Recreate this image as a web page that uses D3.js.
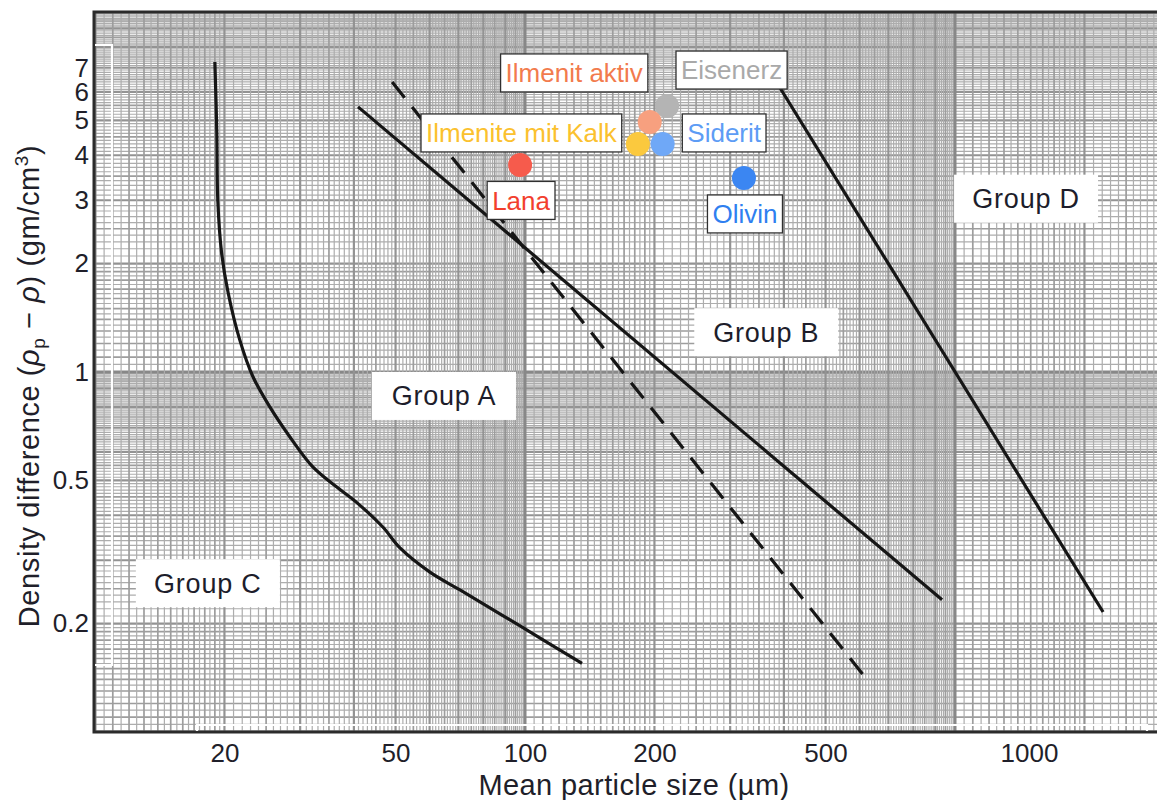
<!DOCTYPE html>
<html>
<head>
<meta charset="utf-8">
<script src="https://cdn.jsdelivr.net/npm/d3@7"></script>
<style>
  html, body { margin: 0; padding: 0; background: #ffffff; }
  svg { display: block; font-family: "Liberation Sans", Arial, Helvetica, sans-serif; }
</style>
</head>
<body>
<svg id="chart" width="1157" height="800"></svg>
<script>
// ---------- data ----------
// Axis tick labels
const xTickValues = [20, 50, 100, 200, 500, 1000];          // mean particle size, µm
const yTickValues = [0.2, 0.5, 1, 2, 3, 4, 5, 6, 7];        // density difference, g/cm³

// Boundary C / A (cohesive to aeratable)
const boundaryCA_size    = [19.0, 19.2, 19.3, 19.7, 20.4, 21.7, 23.3, 25.5, 28.4, 32.1, 36.5, 40.7, 46.7, 51.2, 60.1, 70.6, 97.4, 135.7];
const boundaryCA_density = [7.26, 4.61, 3.00, 2.14, 1.66, 1.23, 0.97, 0.80, 0.66, 0.545, 0.479, 0.433, 0.371, 0.3245, 0.278, 0.248, 0.197, 0.155];

// Boundary A / B
const boundaryAB_size    = [40.9, 933];
const boundaryAB_density = [5.45, 0.233];

// Alternative A / B criterion (dashed)
const boundaryAB2_size    = [49.1, 618];
const boundaryAB2_density = [6.39, 0.142];

// Boundary B / D
const boundaryBD_size    = [392, 2210];
const boundaryBD_density = [6.15, 0.2154];

// Materials
const materialNames   = ["Eisenerz", "Ilmenit aktiv", "Ilmenite mit Kalk", "Siderit", "Lana", "Olivin"];
const materialSize    = [214, 195, 183, 209, 97.4, 323];
const materialDensity = [5.48, 4.95, 4.30, 4.30, 3.76, 3.46];

// Group regions
const groupNames   = ["Group A", "Group B", "Group C", "Group D"];
const groupSize    = [64.8, 364, 18.3, 1463];
const groupDensity = [0.858, 1.29, 0.259, 3.03];

// ---------- styling / layout ----------
const W = 1157, H = 800;
const plot = { left: 95, right: 1157, top: 12, bottom: 732 };

const pointFill = {
  "Eisenerz": "#b4b4b4", "Ilmenit aktiv": "#f7a07f", "Ilmenite mit Kalk": "#fbc93e",
  "Siderit": "#6fa8f7", "Lana": "#f65b4c", "Olivin": "#3b86f2"
};
const labelColor = {
  "Eisenerz": "#a9a9a9", "Ilmenit aktiv": "#f27b4d", "Ilmenite mit Kalk": "#fbc12e",
  "Siderit": "#5d9cf5", "Lana": "#f23f2e", "Olivin": "#2f7ff0"
};
// label box centre relative to the marker, in px
const labelOffset = {
  "Eisenerz": [64.5, -36], "Ilmenit aktiv": [-75.5, -49], "Ilmenite mit Kalk": [-116.5, -11],
  "Siderit": [61.5, -11], "Lana": [1, 35.5], "Olivin": [1, 36]
};

const svg = d3.select("#chart");

const x = d3.scaleLog().domain([10, 1000]).range([95, 955]);
const y = d3.scaleLog().domain([0.1, 10]).range([732, 12]);

svg.append("rect").attr("width", W).attr("height", H).attr("fill", "#fff");

// ---------- log graph paper ----------
function paperValues(e0, e1) {
  const out = [];
  for (let e = e0; e <= e1; e++) {
    const d = Math.pow(10, e);
    for (let i = 100; i < 200; i += 5)
      out.push({ v: d * i / 100, k: i % 100 === 0 ? 0 : (i % 10 === 0 ? 2 : 3) });
    for (let i = 200; i < 1000; i += 10)
      out.push({ v: d * i / 100, k: i % 100 === 0 ? 1 : (i % 50 === 0 ? 2 : 3) });
  }
  return out;
}
const lineStyle = [
  { c: "#888888", w: 3.0 },
  { c: "#939393", w: 2.2 },
  { c: "#9d9d9d", w: 1.7 },
  { c: "#adadad", w: 1.2 }
];

const grid = svg.append("g").attr("class", "paper");
const defs = svg.append("defs");
defs.append("clipPath").attr("id", "plotClip")
  .append("rect").attr("x", plot.left).attr("y", plot.top)
  .attr("width", plot.right - plot.left).attr("height", plot.bottom - plot.top);
grid.attr("clip-path", "url(#plotClip)");

const xPaper = paperValues(1, 3).filter(d => x(d.v) <= plot.right + 1).sort((a, b) => b.k - a.k);
const yPaper = paperValues(-1, 0).filter(d => y(d.v) >= plot.top - 1).sort((a, b) => b.k - a.k);

grid.selectAll("line.h").data(yPaper).join("line").attr("class", "h")
  .attr("x1", plot.left).attr("x2", plot.right)
  .attr("y1", d => y(d.v)).attr("y2", d => y(d.v))
  .attr("stroke", d => lineStyle[d.k].c).attr("stroke-width", d => lineStyle[d.k].w);
grid.selectAll("line.v").data(xPaper).join("line").attr("class", "v")
  .attr("y1", plot.top).attr("y2", plot.bottom)
  .attr("x1", d => x(d.v)).attr("x2", d => x(d.v))
  .attr("stroke", d => lineStyle[d.k].c).attr("stroke-width", d => lineStyle[d.k].w);

// ---------- frame ----------
const frame = svg.append("g").attr("stroke", "#2b2b2b").attr("stroke-width", 3).attr("fill", "none");
frame.append("path").attr("d", `M${plot.right},${plot.top}H${plot.left - 1}V${plot.bottom}H${plot.right}`);

// white edge strokes of the paper
const edge = svg.append("g").attr("stroke", "#fff").attr("stroke-width", 2.2).attr("fill", "none");
edge.append("path").attr("d", "M95,45H112V665H95");
edge.append("path").attr("d", "M197,731V725H1147V731");

// ---------- group region labels ----------
const groups = svg.append("g").attr("class", "groups");
groupNames.forEach((name, i) => {
  const cx = x(groupSize[i]), cy = y(groupDensity[i]);
  const g = groups.append("g").attr("transform", `translate(${cx},${cy})`);
  g.append("rect").attr("x", -72).attr("y", -24).attr("width", 144).attr("height", 48).attr("fill", "#fff");
  g.append("text").attr("text-anchor", "middle").attr("dy", "0.35em")
    .attr("font-size", 27).attr("letter-spacing", 0.8).attr("fill", "#1d1d2b").text(name);
});

// ---------- boundary lines ----------
const lineGen = curve => d3.line().x(d => x(d[0])).y(d => y(d[1])).curve(curve);
const curves = svg.append("g").attr("fill", "none").attr("stroke", "#161616").attr("stroke-width", 3.2);

curves.append("path")
  .attr("d", lineGen(d3.curveCatmullRom.alpha(0.5))(d3.zip(boundaryCA_size, boundaryCA_density)));
curves.append("path")
  .attr("d", lineGen(d3.curveLinear)(d3.zip(boundaryAB_size, boundaryAB_density)));
curves.append("path")
  .attr("stroke-dasharray", "20,12")
  .attr("d", lineGen(d3.curveLinear)(d3.zip(boundaryAB2_size, boundaryAB2_density)));
curves.append("path")
  .attr("d", lineGen(d3.curveLinear)(d3.zip(boundaryBD_size, boundaryBD_density)));

// ---------- materials ----------
const mats = materialNames.map((n, i) => ({ name: n, size: materialSize[i], dens: materialDensity[i] }));
svg.append("g").selectAll("circle").data(mats).join("circle")
  .attr("cx", d => x(d.size)).attr("cy", d => y(d.dens)).attr("r", 12)
  .attr("fill", d => pointFill[d.name]);

const labels = svg.append("g").attr("font-size", 26);
mats.forEach(d => {
  const [dx, dy] = labelOffset[d.name];
  const cx = x(d.size) + dx, cy = y(d.dens) + dy;
  const g = labels.append("g").attr("transform", `translate(${cx},${cy})`);
  const rect = g.append("rect").attr("fill", "#fff").attr("stroke", "#303030").attr("stroke-width", 1.3);
  const t = g.append("text").attr("text-anchor", "middle").attr("dy", "0.36em")
    .attr("fill", labelColor[d.name]).text(d.name);
  const bw = t.node().getComputedTextLength() + 10;
  rect.attr("x", -bw / 2).attr("y", -19).attr("width", bw).attr("height", 38);
});

// ---------- axes ----------
const xAxis = svg.append("g").attr("transform", `translate(0,${plot.bottom})`)
  .call(d3.axisBottom(x).tickValues(xTickValues).tickFormat(d3.format("d")).tickSize(0).tickPadding(12));
xAxis.select(".domain").remove();
xAxis.selectAll("text").attr("font-size", 26).attr("fill", "#1f1f2a").attr("font-family", null)
  .attr("dx", d => d === 1000 ? 74 : 0);

const yAxis = svg.append("g").attr("transform", `translate(89,0)`)
  .call(d3.axisLeft(y).tickValues(yTickValues).tickFormat(d => String(d)).tickSize(0).tickPadding(0));
yAxis.select(".domain").remove();
yAxis.selectAll("text").attr("font-size", 26).attr("fill", "#1f1f2a").attr("font-family", null);

// axis titles
svg.append("text").attr("x", 634).attr("y", 795).attr("text-anchor", "middle")
  .attr("font-size", 29).attr("letter-spacing", 0.4).attr("fill", "#1f1f2a").text("Mean particle size (µm)");

const yt = svg.append("text").attr("transform", "translate(39,386) rotate(-90)")
  .attr("text-anchor", "middle").attr("font-size", 29).attr("letter-spacing", 0.6).attr("fill", "#1f1f2a");
yt.append("tspan").text("Density difference (");
yt.append("tspan").attr("font-style", "italic").text("ρ");
yt.append("tspan").attr("font-size", 19).attr("dy", 6).text("p");
yt.append("tspan").attr("dy", -6).text(" − ");
yt.append("tspan").attr("font-style", "italic").text("ρ");
yt.append("tspan").text(") (gm/cm");
yt.append("tspan").attr("font-size", 19).attr("dy", -11).text("3");
yt.append("tspan").attr("dy", 11).text(")");
</script>
</body>
</html>
